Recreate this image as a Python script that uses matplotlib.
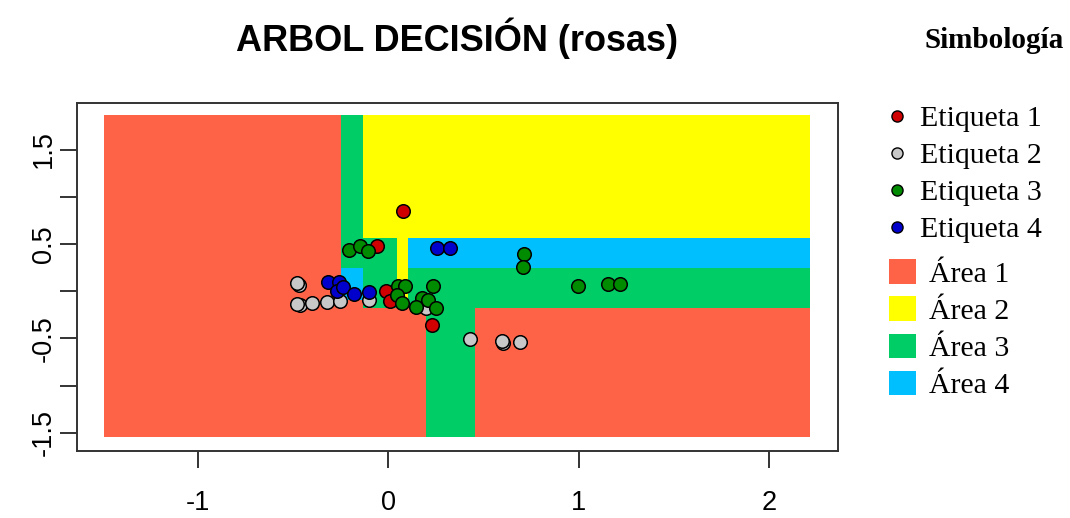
import numpy as np
import matplotlib
matplotlib.use("Agg")
import matplotlib.pyplot as plt
from matplotlib.colors import ListedColormap
from matplotlib.lines import Line2D
from matplotlib.patches import Patch

# puntos de cada etiqueta (x, y)
et1_x = [0.079, -0.058, -0.012, 0.009, 0.228]
et1_y = [0.847, 0.476, 0.000, -0.106, -0.360]

et2_x = [-0.471, -0.478, -0.463, -0.480, -0.402, -0.323, -0.253, -0.100, 0.198, 0.429, 0.603, 0.598, 0.691]
et2_y = [0.063, 0.085, -0.148, -0.135, -0.130, -0.120, -0.106, -0.095, -0.183, -0.508, -0.547, -0.530, -0.536]

et3_x = [-0.206, -0.149, -0.108, 0.052, 0.088, 0.044, 0.070, 0.175, 0.210, 0.233, 0.145, 0.249,
         0.714, 0.705, 0.997, 1.151, 1.216]
et3_y = [0.434, 0.476, 0.426, 0.056, 0.056, -0.042, -0.130, -0.077, -0.095, 0.056, -0.166, -0.177,
         0.392, 0.257, 0.053, 0.074, 0.074]

et4_x = [0.254, 0.324, -0.315, -0.257, -0.271, -0.238, -0.180, -0.100]
et4_y = [0.452, 0.452, 0.098, 0.098, 0.000, 0.046, -0.035, -0.014]

# cortes del arbol
x_cortes = [-0.248, -0.133, 0.045, 0.103, 0.200, 0.457]
y_cortes = [0.561, 0.243, -0.100, -0.185]
x_rango = [-1.49, 2.21]
y_rango = [-1.55, 1.86]

col_areas = ["#FF6347", "#FFFF00", "#00CD66", "#00BFFF"]
col_puntos = ["#D00000", "#C8C8C8", "#008B00", "#0000CD"]


def arbol(x, y):
    xa, xb, xc, xd, xe, xf = x_cortes
    y1, y2, y3, y4 = y_cortes
    conds = [
        x < xa,
        (x < xb) & (y >= y2),
        (x < xb) & (y >= y3),
        x < xb,
        (x < xc) & (y >= y1),
        (x < xc) & (y >= y4),
        x < xc,
        (x < xd) & (y >= y4),
        x < xd,
        y >= y1,
        y >= y2,
        y >= y4,
        (x >= xe) & (x < xf),
    ]
    vals = [1, 3, 4, 1, 2, 3, 1, 2, 1, 2, 4, 3, 3]
    return np.select(conds, vals, default=1)


gx = np.linspace(x_rango[0], x_rango[1], 1500)
gy = np.linspace(y_rango[0], y_rango[1], 1500)
GX, GY = np.meshgrid(gx, gy)
Z = arbol(GX, GY)

fig = plt.figure(figsize=(10.7, 5.18), dpi=100)
ax = fig.add_axes([0.0717, 0.1299, 0.7115, 0.6707])

ax.imshow(Z, origin="lower", extent=[x_rango[0], x_rango[1], y_rango[0], y_rango[1]],
          cmap=ListedColormap(col_areas), vmin=0.5, vmax=4.5, aspect="auto",
          interpolation="nearest", zorder=1)

for xs, ys, c in [(et1_x, et1_y, col_puntos[0]), (et2_x, et2_y, col_puntos[1]),
                  (et3_x, et3_y, col_puntos[2]), (et4_x, et4_y, col_puntos[3])]:
    ax.scatter(xs, ys, s=95, c=c, edgecolors="black", linewidths=1.1, zorder=3)

ax.set_xlim(-1.635, 2.36)
ax.set_ylim(-1.69, 1.99)

ax.set_xticks([-1, 0, 1, 2])
ax.set_xticklabels(["-1", "0", "1", "2"])
ax.set_yticks([-1.5, -1, -0.5, 0, 0.5, 1, 1.5])
ax.set_yticklabels(["-1.5", "", "-0.5", "", "0.5", "", "1.5"], rotation=90, va="center")
ax.tick_params(axis="both", direction="out", length=12.5, width=1.4, color="#333333",
               labelsize=19.5)
ax.tick_params(axis="x", pad=16)
ax.tick_params(axis="y", pad=2)
for lbl in ax.get_xticklabels() + ax.get_yticklabels():
    lbl.set_family("Liberation Sans")
for s in ax.spines.values():
    s.set_color("#333333")
    s.set_linewidth(1.4)

ax.set_title("ARBOL DECISIÓN (rosas)", fontsize=26, fontweight="bold",
             family="Liberation Sans", pad=38)

# simbologia
fig.text(0.864, 0.921, "Simbología", family="Liberation Serif", fontweight="bold",
         fontsize=21, va="center", ha="left")

h_puntos = [Line2D([], [], marker="o", linestyle="none", markersize=8, markerfacecolor=c,
                   markeredgecolor="black", markeredgewidth=1) for c in col_puntos]
leg1 = fig.legend(h_puntos, ["Etiqueta 1", "Etiqueta 2", "Etiqueta 3", "Etiqueta 4"],
                  loc="upper left", bbox_to_anchor=(0.810, 0.826), frameon=False,
                  prop={"family": "Liberation Serif", "size": 21.5}, handlelength=1.0,
                  handletextpad=0.3, labelspacing=0.34, borderpad=0)

h_areas = [Patch(facecolor=c, edgecolor="none") for c in col_areas]
leg2 = fig.legend(h_areas, ["Área 1", "Área 2", "Área 3", "Área 4"],
                  loc="upper left", bbox_to_anchor=(0.817, 0.528), frameon=False,
                  prop={"family": "Liberation Serif", "size": 21.5}, handlelength=0.9,
                  handleheight=0.9, handletextpad=0.43, labelspacing=0.28, borderpad=0)

fig.savefig("out.png", dpi=100)
